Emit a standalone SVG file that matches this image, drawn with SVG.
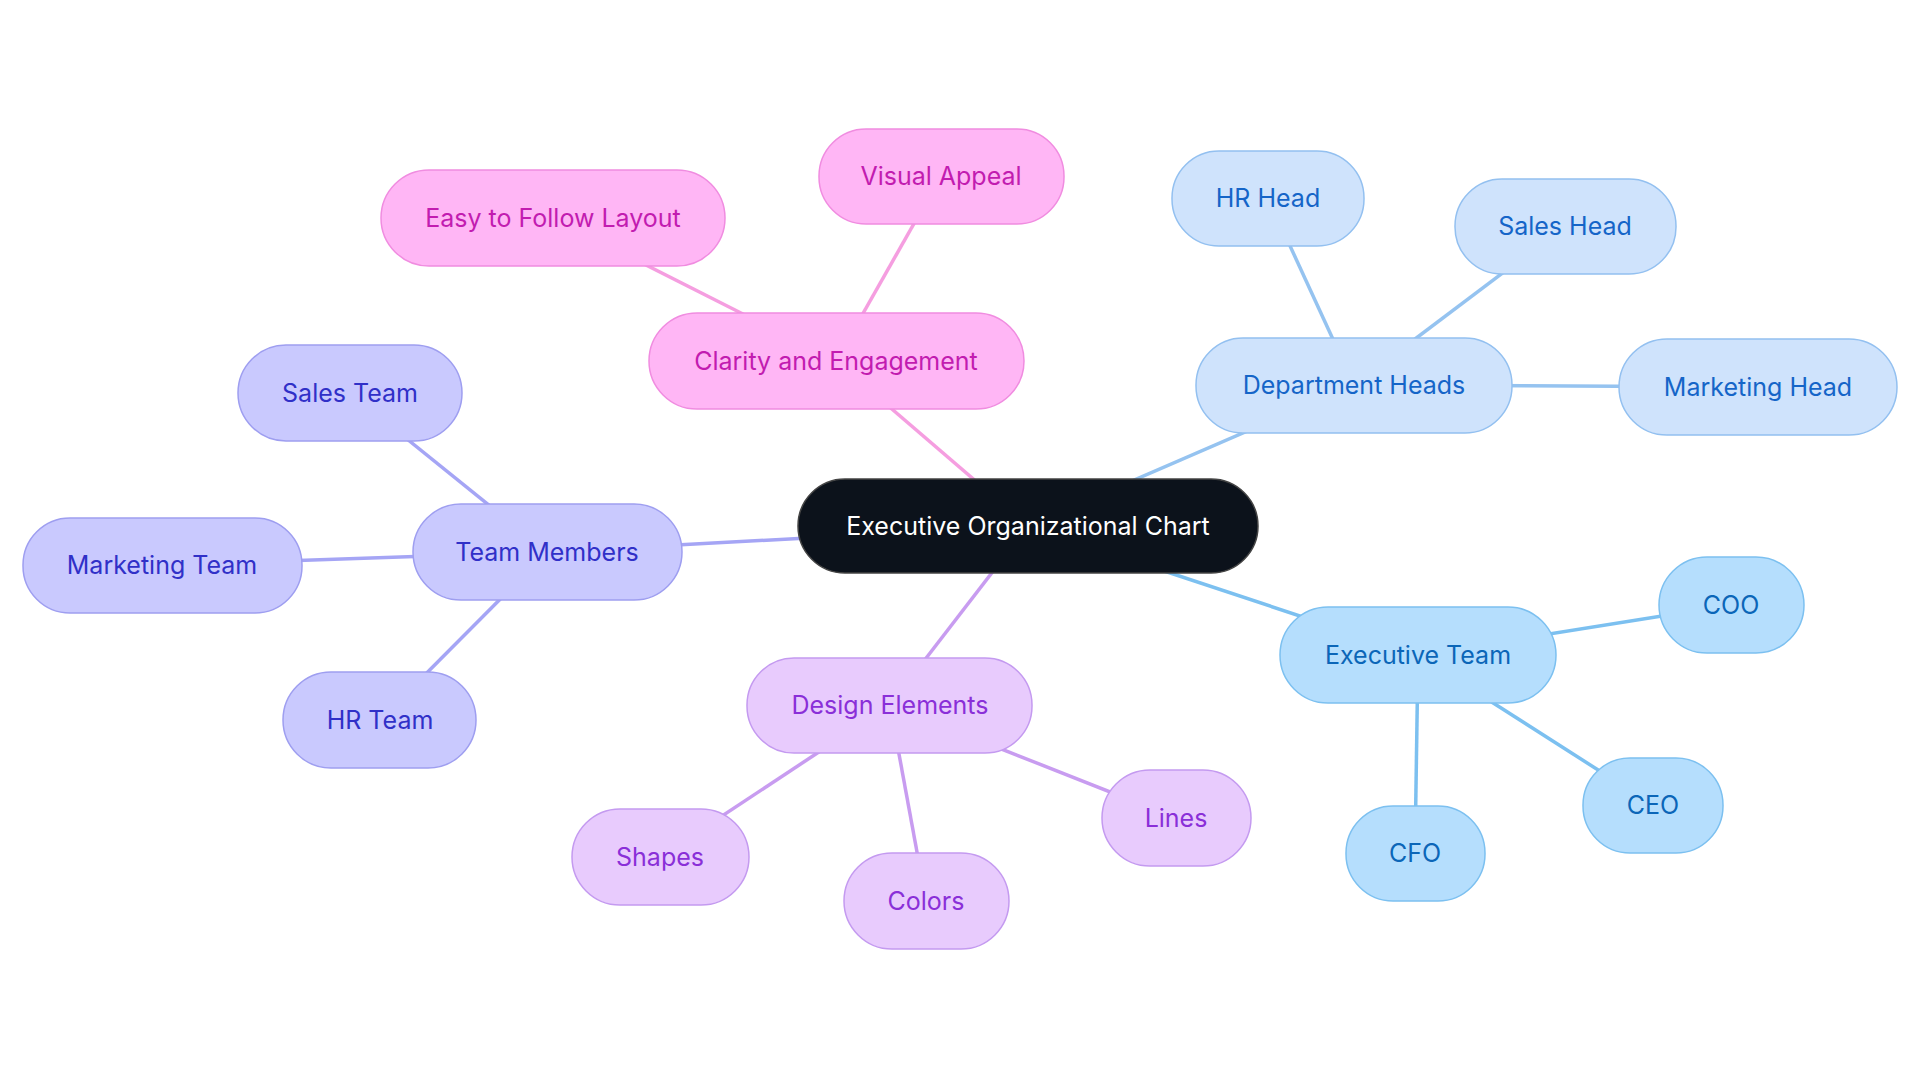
<svg xmlns="http://www.w3.org/2000/svg" width="1920" height="1083" viewBox="0 0 1920 1083">
<style>
text{font-family:Inter,"Noto Sans",sans-serif;font-size:25px;text-anchor:middle;dominant-baseline:central}
.pk rect{fill:#ffb6f5;stroke:#f08ce0;stroke-width:1.5}.pk text{fill:#c21cb0}
.bl rect{fill:#cfe3fc;stroke:#93c0f0;stroke-width:1.5}.bl text{fill:#1565c8}
.ex rect{fill:#b5defd;stroke:#7cc0f0;stroke-width:1.5}.ex text{fill:#0b66b8}
.tm rect{fill:#c9c9fe;stroke:#9e9ef0;stroke-width:1.5}.tm text{fill:#3030c8}
.de rect{fill:#e8cbfd;stroke:#c49af0;stroke-width:1.5}.de text{fill:#8a2fd8}
#connectors line{stroke-width:3.5;fill:none}
</style>
<rect width="1920" height="1083" fill="#fff"/>
<g id="connectors">
<line x1="1028" y1="526" x2="836" y2="361" stroke="#f59ee0"/>
<line x1="836" y1="361" x2="553" y2="218" stroke="#f59ee0"/>
<line x1="836" y1="361" x2="941" y2="176" stroke="#f59ee0"/>
<line x1="1028" y1="526" x2="1354" y2="385" stroke="#95c3f0"/>
<line x1="1354" y1="385" x2="1268" y2="198" stroke="#95c3f0"/>
<line x1="1354" y1="385" x2="1565" y2="226" stroke="#95c3f0"/>
<line x1="1354" y1="385" x2="1758" y2="387" stroke="#95c3f0"/>
<line x1="1028" y1="526" x2="1418" y2="655" stroke="#7cc0f0"/>
<line x1="1418" y1="655" x2="1731" y2="605" stroke="#7cc0f0"/>
<line x1="1418" y1="655" x2="1653" y2="805" stroke="#7cc0f0"/>
<line x1="1418" y1="655" x2="1415" y2="853" stroke="#7cc0f0"/>
<line x1="1028" y1="526" x2="547" y2="552" stroke="#a5a5f5"/>
<line x1="547" y1="552" x2="350" y2="393" stroke="#a5a5f5"/>
<line x1="547" y1="552" x2="162" y2="565" stroke="#a5a5f5"/>
<line x1="547" y1="552" x2="380" y2="720" stroke="#a5a5f5"/>
<line x1="1028" y1="526" x2="890" y2="705" stroke="#c89cf0"/>
<line x1="890" y1="705" x2="660" y2="857" stroke="#c89cf0"/>
<line x1="890" y1="705" x2="926" y2="901" stroke="#c89cf0"/>
<line x1="890" y1="705" x2="1176" y2="818" stroke="#c89cf0"/>
</g>
<g id="root"><rect x="798" y="479" width="460" height="94" rx="47" fill="#0c121b" stroke="#444" stroke-width="1.5"/><text x="1028" y="526" fill="#fff">Executive Organizational Chart</text></g>
<g id="clarity" class="pk"><rect x="649" y="313" width="375" height="96" rx="48"/><text x="836" y="361">Clarity and Engagement</text></g>
<g id="easy" class="pk"><rect x="381" y="170" width="344" height="96" rx="48"/><text x="553" y="218">Easy to Follow Layout</text></g>
<g id="visual" class="pk"><rect x="819" y="129" width="245" height="95" rx="47"/><text x="941" y="176">Visual Appeal</text></g>
<g id="dept" class="bl"><rect x="1196" y="338" width="316" height="95" rx="47"/><text x="1354" y="385">Department Heads</text></g>
<g id="hrhead" class="bl"><rect x="1172" y="151" width="192" height="95" rx="47"/><text x="1268" y="198">HR Head</text></g>
<g id="saleshead" class="bl"><rect x="1455" y="179" width="221" height="95" rx="47"/><text x="1565" y="226">Sales Head</text></g>
<g id="mkthead" class="bl"><rect x="1619" y="339" width="278" height="96" rx="48"/><text x="1758" y="387">Marketing Head</text></g>
<g id="exec" class="ex"><rect x="1280" y="607" width="276" height="96" rx="48"/><text x="1418" y="655">Executive Team</text></g>
<g id="coo" class="ex"><rect x="1659" y="557" width="145" height="96" rx="48"/><text x="1731" y="605">COO</text></g>
<g id="ceo" class="ex"><rect x="1583" y="758" width="140" height="95" rx="47"/><text x="1653" y="805">CEO</text></g>
<g id="cfo" class="ex"><rect x="1346" y="806" width="139" height="95" rx="47"/><text x="1415" y="853">CFO</text></g>
<g id="team" class="tm"><rect x="413" y="504" width="269" height="96" rx="48"/><text x="547" y="552">Team Members</text></g>
<g id="salesteam" class="tm"><rect x="238" y="345" width="224" height="96" rx="48"/><text x="350" y="393">Sales Team</text></g>
<g id="mktteam" class="tm"><rect x="23" y="518" width="279" height="95" rx="47"/><text x="162" y="565">Marketing Team</text></g>
<g id="hrteam" class="tm"><rect x="283" y="672" width="193" height="96" rx="48"/><text x="380" y="720">HR Team</text></g>
<g id="design" class="de"><rect x="747" y="658" width="285" height="95" rx="47"/><text x="890" y="705">Design Elements</text></g>
<g id="shapes" class="de"><rect x="572" y="809" width="177" height="96" rx="48"/><text x="660" y="857">Shapes</text></g>
<g id="colors" class="de"><rect x="844" y="853" width="165" height="96" rx="48"/><text x="926" y="901">Colors</text></g>
<g id="lines" class="de"><rect x="1102" y="770" width="149" height="96" rx="48"/><text x="1176" y="818">Lines</text></g>
</svg>
